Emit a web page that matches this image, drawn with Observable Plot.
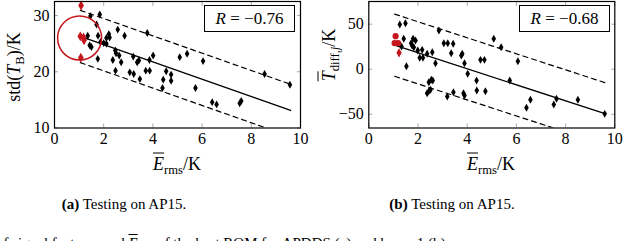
<!DOCTYPE html>
<html>
<head>
<meta charset="utf-8">
<script src="https://cdn.jsdelivr.net/npm/d3@7"></script>
<script src="https://cdn.jsdelivr.net/npm/@observablehq/plot@0.6"></script>
<style>
  html, body { margin: 0; padding: 0; background: #fff; }
  #wrap { position: relative; width: 640px; height: 241px; overflow: hidden; color: #000; }
  #wrap, #wrap * { font-family: "Liberation Serif", "Times New Roman", serif !important; }
  .abs { position: absolute; white-space: nowrap; }
  .rot { transform: translate(-50%, -50%) rotate(-90deg); }
  .ctr { transform: translate(-50%, -50%); }
  .ov { text-decoration: overline; }
  sub { font-size: 70%; vertical-align: -0.35em; line-height: 0; }
  .rbox { border: 1.2px solid #000; box-sizing: border-box; display: flex; align-items: center; justify-content: center; font-size: 17px; }
</style>
</head>
<body>
<div id="wrap"></div>
<script>
// ---------- data ----------
const xTicks = [0, 2, 4, 6, 8, 10];
const yTicksA = [10, 20, 30];
const yTicksB = [-50, 0, 50];

// (a) std(T_B) vs E_rms
const aX = [1.35,1.46,1.84,1.71,1.77,1.43,1.5,1.76,1.87,2.0,2.11,2.11,2.21,2.57,2.85,2.47,2.37,2.63,2.71,2.48,3.06,3.22,3.2,3.36,3.43,3.47,3.77,3.86,4.01,3.71,3.87,4.42,4.39,4.54,4.74,4.74,5.09,5.39,5.73,6.04,6.41,6.59,7.53,7.59,8.54,9.57,2.24,2.5];
const aY = [26.4,29.9,30.2,28.4,26.4,24.7,24.4,22.3,25.3,25.1,25.0,26.0,26.7,27.5,26.4,23.8,22.1,22.9,21.7,20.2,19.9,19.6,22.7,21.7,22.0,18.7,26.9,22.1,22.9,20.2,20.2,18.6,17.1,20.1,19.5,18.4,22.6,23.2,17.1,21.9,14.6,14.2,14.4,14.8,19.6,17.7,26.1,23.3];
const aRedX = [1.08, 1.05, 1.18, 1.2, 1.07];
const aRedY = [31.8, 26.3, 26.1, 25.6, 22.5];
const aCircle = [1.02, 26.0];
const aFit = {intercept: 27.9, slope: -1.54, band: 4.65, from: 1.05, to: 9.6};
const aR = "\u22120.76";

// (b) T_diff,j vs E_rms
const bX = [1.26,1.49,1.42,1.33,1.53,1.72,1.8,1.9,1.76,1.83,1.99,2.17,2.07,2.2,2.37,2.58,2.71,2.85,3.05,3.21,3.43,3.35,3.76,3.8,3.89,4.02,4.38,4.54,4.7,5.08,5.38,5.73,6.06,6.41,6.57,7.52,7.63,8.5,9.59,2.44,2.54,2.6,2.44,2.51,2.37,3.19,3.44,3.85,3.89,4.39,4.74];
const bY = [49.7,51.1,33.8,25.2,3.3,28.9,33.8,31.9,26.3,24.4,20.8,21.5,12.7,12.7,17.1,18.9,6.7,43.0,28.9,28.9,28.2,17.8,15.2,17.1,6.7,-5.1,-12.6,10.4,10.4,33.8,24.4,-12.6,8.9,-42.9,-34,-39.2,-32.9,-34,-49.6,-14.4,-11.8,-12.6,-24.4,-22.9,-26.7,-30.3,-25.6,-26.7,-29.2,-23.7,-24.4];
const bRedX = [1.09, 1.05, 1.19, 1.23];
const bRedY = [36.7, 28.9, 28.9, 18.2];
const bRedSym = ["circle", "circle", "circle", "diamond"];
const bFit = {intercept: 36.0, slope: -8.9, band: 34.5, from: 1.05, to: 9.6};
const bR = "\u22120.68";

const RED = "#c4161c";
const FONT = '"Liberation Serif", "Times New Roman", serif';

function fitLines(f) {
  const xs = [f.from, f.to];
  const mk = (off) => xs.map(x => ({x, y: f.intercept + f.slope * x + off}));
  return {mid: mk(0), up: mk(f.band), lo: mk(-f.band)};
}

const fmt = d => d < 0 ? "\u2212" + (-d) : String(d);

function panel(opts) {
  const {xs, ys, redX, redY, redSym, fit, yDomain, yTicks, marginLeft, marginRight, circle} = opts;
  const pts = xs.map((x, i) => ({x, y: ys[i]}));
  const reds = redX.map((x, i) => ({x, y: redY[i], s: redSym ? redSym[i] : "diamond"}));
  const L = fitLines(fit);
  const marks = [
    Plot.axisX({ticks: xTicks, anchor: "bottom", tickSize: -4, tickFormat: () => "", stroke: "#aaa", label: null}),
    Plot.axisX({ticks: xTicks, anchor: "top", tickSize: -4, tickFormat: () => "", stroke: "#aaa", label: null}),
    Plot.axisY({ticks: yTicks, anchor: "left", tickSize: -4, tickFormat: () => "", stroke: "#aaa", label: null}),
    Plot.axisY({ticks: yTicks, anchor: "right", tickSize: -4, tickFormat: () => "", stroke: "#aaa", label: null}),
    Plot.axisX({ticks: xTicks, anchor: "bottom", tickSize: 0, tickPadding: 5, label: null, fontSize: 16, fontFamily: FONT, tickFormat: fmt}),
    Plot.axisY({ticks: yTicks, anchor: "left", tickSize: 0, tickPadding: 5, label: null, fontSize: 16, fontFamily: FONT, tickFormat: fmt}),
    Plot.line(L.up, {x: "x", y: "y", stroke: "black", strokeWidth: 1.2, strokeDasharray: "5,4", clip: true}),
    Plot.line(L.lo, {x: "x", y: "y", stroke: "black", strokeWidth: 1.2, strokeDasharray: "5,4", clip: true}),
    Plot.line(L.mid, {x: "x", y: "y", stroke: "black", strokeWidth: 1.3, clip: true}),
    Plot.dot(pts, {x: "x", y: "y", symbol: "diamond", r: 2.4, fill: "black", stroke: null}),
    Plot.dot(reds, {x: "x", y: "y", symbol: d => d.s, r: d => d.s === "circle" ? 2.9 : 2.4, fill: RED, stroke: null}),
  ];
  if (circle) marks.push(Plot.dot([{x: circle[0], y: circle[1]}], {x: "x", y: "y", r: 22, fill: "none", stroke: RED, strokeWidth: 1.5}));
  marks.push(Plot.frame({stroke: "black", strokeWidth: 1.2}));
  const svg = Plot.plot({
    width: 320, height: 180,
    marginLeft, marginRight, marginTop: 1, marginBottom: 52.5,
    x: {domain: [0, 10]},
    y: {domain: yDomain},
    symbol: {type: "identity"},
    style: {fontFamily: FONT, fontSize: "16px", background: "transparent", color: "black", overflow: "visible"},
    marks
  });
  svg.querySelectorAll("text").forEach(t => t.style.setProperty("font-family", FONT, "important"));
  return svg;
}

const wrap = document.getElementById("wrap");
const A = panel({xs: aX, ys: aY, redX: aRedX, redY: aRedY, fit: aFit, yDomain: [10, 32.5], yTicks: yTicksA, marginLeft: 54, marginRight: 20, circle: aCircle});
const B = panel({xs: bX, ys: bY, redX: bRedX, redY: bRedY, redSym: bRedSym, fit: bFit, yDomain: [-65.3, 75.2], yTicks: yTicksB, marginLeft: 48.3, marginRight: 25.7});
A.style.position = "absolute"; A.style.left = "0px"; A.style.top = "0px";
B.style.position = "absolute"; B.style.left = "320px"; B.style.top = "0px";
wrap.appendChild(A); wrap.appendChild(B);

function addHTML(html, css, cls) {
  const d = document.createElement("div");
  d.className = "abs " + (cls || "");
  d.innerHTML = html;
  Object.assign(d.style, css);
  wrap.appendChild(d);
  d.querySelectorAll("*").forEach(e => e.style.setProperty("font-family", FONT, "important"));
  d.style.setProperty("font-family", FONT, "important");
  return d;
}
const xLab = '<i class="ov">E</i><sub>rms</sub>/K';
addHTML(xLab, {left: "177px", top: "164px", fontSize: "18px"}, "ctr");
addHTML(xLab, {left: "491px", top: "164px", fontSize: "18px"}, "ctr");
addHTML('std(<i>T</i><sub>B</sub>)/K', {left: "14px", top: "67px", fontSize: "18px"}, "rot");
addHTML('<i class="ov">T</i><sub>diff,<i>j</i></sub>/K', {left: "329px", top: "55px", fontSize: "18px"}, "rot");
addHTML('<i>R</i>&nbsp;=&nbsp;' + aR, {left: "204px", top: "5px", width: "91px", height: "27px"}, "rbox");
addHTML('<i>R</i>&nbsp;=&nbsp;' + bR, {left: "519px", top: "5px", width: "91px", height: "27px"}, "rbox");
addHTML('<b>(a)</b> Testing on AP15.', {left: "124px", top: "204px", fontSize: "15px"}, "ctr");
addHTML('<b>(b)</b> Testing on AP15.', {left: "452px", top: "204px", fontSize: "15px"}, "ctr");
addHTML('of signal features and <i class="ov">E</i><sub>rms</sub> of the best ROM for APDDS (a) and beam 1 (b).', {left: "-4px", top: "235px", fontSize: "15px"});
</script>
</body>
</html>
